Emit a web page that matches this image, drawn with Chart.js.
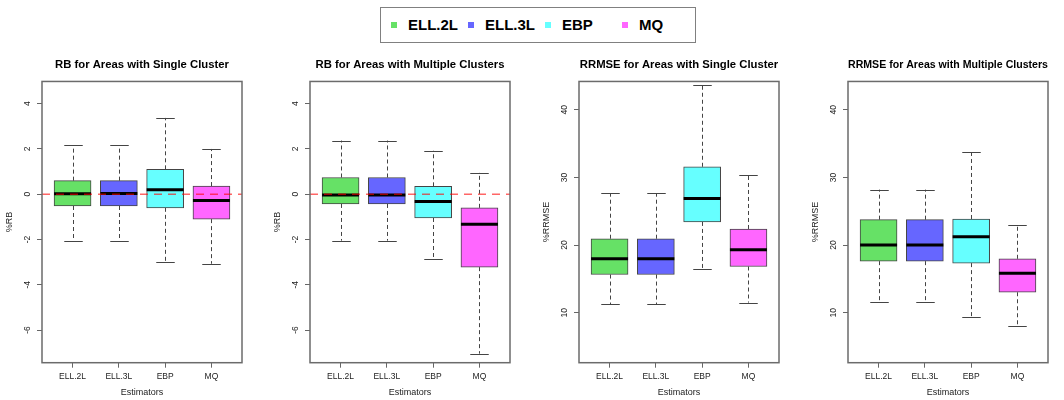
<!DOCTYPE html>
<html>
<head>
<meta charset="utf-8">
<script src="https://cdn.jsdelivr.net/npm/chart.js@4.4.1/dist/chart.umd.min.js"></script>
<style>
body{margin:0;width:1064px;height:400px;background:#fff;position:relative;overflow:hidden;font-family:"Liberation Sans",Arial,sans-serif}
.panel{position:absolute;top:45px;width:266px;height:355px}
#legend{position:absolute;left:380px;top:7px;width:314px;height:34px;border:1px solid #808080;box-sizing:content-box}
.item{position:absolute;top:0;line-height:34px;font-weight:bold;font-size:15px;color:#000;white-space:nowrap}
.item i{position:absolute;width:6px;height:6px;top:14px;left:-17px}
</style>
</head>
<body>
<div id="legend"></div>
<div class="panel" style="left:0px"><canvas id="c1" width="266" height="355"></canvas></div>
<div class="panel" style="left:268px"><canvas id="c2" width="266" height="355"></canvas></div>
<div class="panel" style="left:537px"><canvas id="c3" width="266" height="355"></canvas></div>
<div class="panel" style="left:806px"><canvas id="c4" width="266" height="355"></canvas></div>
<script>
// ---- data: [min, q1, median, q3, max] per estimator ----
const estimators = ["ELL.2L", "ELL.3L", "EBP", "MQ"];
const boxColors = ["#66e166", "#6666ff", "#66ffff", "#ff66ff"];

const rbSingle = [
  [-2.05, -0.52, 0.02, 0.60, 2.17],
  [-2.05, -0.52, 0.03, 0.60, 2.17],
  [-3.00, -0.60, 0.20, 1.10, 3.37],
  [-3.07, -1.10, -0.28, 0.36, 2.00]
];
const rbMultiple = [
  [-2.05, -0.43, -0.03, 0.74, 2.37],
  [-2.05, -0.43, -0.03, 0.74, 2.37],
  [-2.88, -1.05, -0.32, 0.35, 1.92],
  [-7.04, -3.22, -1.33, -0.60, 0.95]
];
const rrmseSingle = [
  [11.24, 15.64, 17.97, 20.94, 27.67],
  [11.24, 15.64, 17.97, 20.94, 27.67],
  [16.44, 23.42, 26.88, 31.58, 43.66],
  [11.49, 16.83, 19.30, 22.38, 30.40]
];
const rrmseMultiple = [
  [11.58, 17.62, 20.00, 23.76, 28.20],
  [11.58, 17.62, 20.00, 23.76, 28.20],
  [9.40, 17.33, 21.24, 23.86, 33.70],
  [8.02, 13.02, 15.84, 17.97, 23.00]
];

const rbTicks = [-6, -4, -2, 0, 2, 4];
const rrmseTicks = [10, 20, 30, 40];

Chart.defaults.font.family = '"Liberation Sans", Arial, sans-serif';
Chart.defaults.color = "#222";

/* legend */
const legendLeft = [27, 104, 181, 258];
const legend = document.getElementById("legend");
estimators.forEach((e, i) => {
  const s = document.createElement("span");
  s.className = "item";
  s.style.left = legendLeft[i] + "px";
  s.innerHTML = '<i style="background:' + boxColors[i] + '"></i>' + e;
  legend.appendChild(s);
});

/* whiskers, caps, medians, frame, zero line */
const boxPlugin = {
  id: "boxes",
  beforeDatasetsDraw(chart, args, opts) {
    const {ctx, scales: {y}} = chart;
    const bars = chart.getDatasetMeta(0).data;
    ctx.save();
    ctx.strokeStyle = "#444";
    ctx.lineWidth = 1;
    opts.stats.forEach((s, i) => {
      const cx = Math.round(bars[i].x) + 0.5;
      const cap = bars[i].width / 4;
      ctx.setLineDash([4, 3]);
      ctx.beginPath();
      ctx.moveTo(cx, y.getPixelForValue(s[3]));
      ctx.lineTo(cx, y.getPixelForValue(s[4]));
      ctx.moveTo(cx, y.getPixelForValue(s[1]));
      ctx.lineTo(cx, y.getPixelForValue(s[0]));
      ctx.stroke();
      ctx.setLineDash([]);
      ctx.beginPath();
      [s[0], s[4]].forEach(v => {
        const py = Math.round(y.getPixelForValue(v)) + 0.5;
        ctx.moveTo(cx - cap, py);
        ctx.lineTo(cx + cap, py);
      });
      ctx.stroke();
    });
    ctx.restore();
  },
  afterDatasetsDraw(chart, args, opts) {
    const {ctx, chartArea: a, scales: {y}} = chart;
    const bars = chart.getDatasetMeta(0).data;
    ctx.save();
    ctx.strokeStyle = "#000";
    ctx.lineWidth = 3;
    opts.stats.forEach((s, i) => {
      const py = y.getPixelForValue(s[2]);
      ctx.beginPath();
      ctx.moveTo(bars[i].x - bars[i].width / 2, py);
      ctx.lineTo(bars[i].x + bars[i].width / 2, py);
      ctx.stroke();
    });
    if (opts.zero) {
      const py = y.getPixelForValue(0);
      ctx.strokeStyle = "rgba(255,0,0,0.6)";
      ctx.lineWidth = 1.5;
      ctx.setLineDash([8, 6]);
      ctx.beginPath();
      ctx.moveTo(a.left, py);
      ctx.lineTo(a.right, py);
      ctx.stroke();
      ctx.setLineDash([]);
    }
    ctx.strokeStyle = "#6b6b6b";
    ctx.lineWidth = 1.5;
    ctx.strokeRect(a.left, a.top, a.right - a.left, a.bottom - a.top);
    ctx.restore();
  }
};

function makePanel(id, title, stats, yTitle, ticks, ymin, ymax, zero, tickPad) {
  new Chart(document.getElementById(id), {
    type: "bar",
    data: {
      datasets: [{
        data: stats.map((s, i) => ({x: i + 1, y: [s[1], s[3]]})),
        backgroundColor: boxColors,
        borderColor: "#444",
        borderWidth: 1,
        borderSkipped: false,
        barThickness: 37
      }]
    },
    options: {
      responsive: false,
      animation: false,
      layout: {padding: {left: 0, right: 24, top: 0, bottom: 0}},
      plugins: {
        legend: {display: false},
        tooltip: {enabled: false},
        title: {
          display: true,
          text: title,
          fullSize: false,
          color: "#000",
          font: {size: 11.3, weight: "bold"},
          padding: {top: 13.2, bottom: 9.7}
        },
        boxes: {stats: stats, zero: zero}
      },
      scales: {
        x: {
          type: "linear",
          min: 0.34,
          max: 4.66,
          offset: false,
          afterBuildTicks: s => { s.ticks = estimators.map((e, i) => ({value: i + 1})); },
          afterFit: s => { s.height = 37.3; },
          grid: {drawOnChartArea: false, drawTicks: true, tickLength: 5, color: "#666", offset: false},
          border: {display: false},
          ticks: {
            autoSkip: false,
            maxRotation: 0,
            padding: 4,
            font: {size: 8.5},
            callback: v => estimators[Math.round(v) - 1]
          },
          title: {display: true, text: "Estimators", font: {size: 9}, padding: {top: 0, bottom: 1.6}}
        },
        y: {
          min: ymin,
          max: ymax,
          afterBuildTicks: s => { s.ticks = ticks.map(v => ({value: v})); },
          afterFit: s => { s.width = 42; },
          grid: {drawOnChartArea: false, drawTicks: true, tickLength: 5, color: "#666"},
          border: {display: false},
          ticks: {minRotation: 90, maxRotation: 90, crossAlign: "center", padding: tickPad, font: {size: 8.5}},
          title: {display: true, text: yTitle, font: {size: 9}, padding: {top: 4.6, bottom: 0}}
        }
      }
    },
    plugins: [boxPlugin]
  });
}

makePanel("c1", "RB for Areas with Single Cluster", rbSingle, "%RB", rbTicks, -7.44, 4.98, true, 5.2);
makePanel("c2", "RB for Areas with Multiple Clusters", rbMultiple, "%RB", rbTicks, -7.44, 4.98, true, 5.2);
makePanel("c3", "RRMSE for Areas with Single Cluster", rrmseSingle, "%RRMSE", rrmseTicks, 2.6, 44.2, false, 4.3);
makePanel("c4", "RRMSE for Areas with Multiple Clusters", rrmseMultiple, "%RRMSE", rrmseTicks, 2.6, 44.2, false, 4.3);
</script>
</body>
</html>
